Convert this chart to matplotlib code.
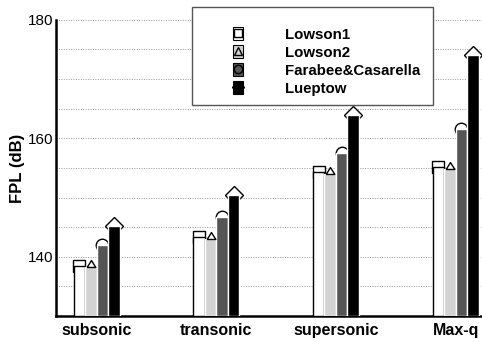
import matplotlib
matplotlib.use("Agg")
import matplotlib.pyplot as plt
import numpy as np
from matplotlib.lines import Line2D
from matplotlib.patches import Rectangle

plt.rcParams["font.family"] = ["Liberation Sans", "DejaVu Sans"]

regimes = ["subsonic", "transonic", "supersonic", "Max-q"]
models = ["Lowson1", "Lowson2", "Farabee&Casarella", "Lueptow"]
lowson1 = [138.4, 143.3, 154.3, 155.2]
lowson2 = [138.2, 143.0, 154.0, 154.9]
farabee = [142.0, 146.7, 157.5, 161.6]
lueptow = [145.2, 150.4, 164.0, 174.1]

series = [lowson1, lowson2, farabee, lueptow]
fills = ["white", "#d2d2d2", "#555555", "black"]
edges = ["black", "white", "white", "white"]
# triangle sits on top of its bar, base at the value
tri_up = [(-1, 0), (1, 0), (0, 1.6), (-1, 0)]
marks = ["s", tri_up, "o", "D"]
msizes = [8, 10, 9, 9]
mz = [2, 4, 2, 2]

fig = plt.figure(figsize=(4.82, 3.42), dpi=100)
ax = fig.add_axes([0.116, 0.076, 0.884, 0.866])

x = np.arange(len(regimes))
w = 0.096
for i, (vals, fc, ec, mk) in enumerate(zip(series, fills, edges, marks)):
    pos = x + (i - 1.5) * w
    ax.bar(pos, np.array(vals) - 130, width=w, bottom=130, color=fc,
           edgecolor=ec, linewidth=1.0, zorder=3)
    # most markers sit under the bars so only their top half shows
    ax.plot(pos, vals, linestyle="none", marker=mk, markersize=msizes[i],
            markerfacecolor="white", markeredgecolor="black",
            markeredgewidth=1.0, zorder=mz[i])

ax.set_ylim(130, 180)
ax.set_xlim(-0.34, 3.22)
ax.set_yticks([140, 160, 180])
ax.set_yticks(np.arange(135, 181, 5), minor=True)
ax.yaxis.grid(True, which="both", linestyle=(0, (1, 1.5)), color="#999999",
              linewidth=0.7, zorder=0)
ax.set_xticks(x)
ax.set_xticklabels(regimes, fontsize=11.5, fontweight="bold")
ax.tick_params(axis="both", which="both", length=0)
ax.tick_params(axis="y", labelsize=11, pad=2)
ax.tick_params(axis="x", pad=5)
ax.set_ylabel("FPL (dB)", fontsize=12, fontweight="bold", labelpad=2)
for s in ("top", "right"):
    ax.spines[s].set_visible(False)
for s in ("left", "bottom"):
    ax.spines[s].set_linewidth(1.8)

# legend with its own frame
frame = Rectangle((192 / 482, 1 - 105 / 342), 241 / 482, 98 / 342,
                  transform=fig.transFigure, facecolor="white",
                  edgecolor="#555555", linewidth=1.0, zorder=5)
fig.patches.append(frame)
handles = []
for fc, mk in zip(fills, ["s", "^", "o", "D"]):
    bar = Rectangle((0, 0), 1, 1, facecolor=fc, edgecolor="black", linewidth=0.8)
    m = Line2D([], [], linestyle="none", marker=mk, markersize=6,
               markerfacecolor=fc, markeredgecolor="black", markeredgewidth=1.0)
    handles.append((bar, m))
leg = fig.legend(handles, models, loc="upper left",
                 bbox_to_anchor=(225 / 482, 1 - 20 / 342), frameon=False,
                 prop={"weight": "bold", "size": 10.8}, handlelength=0.7,
                 handleheight=0.9, handletextpad=2.8, labelspacing=0.24,
                 borderpad=0)
leg.set_zorder(6)

fig.savefig("out.png", dpi=100)
